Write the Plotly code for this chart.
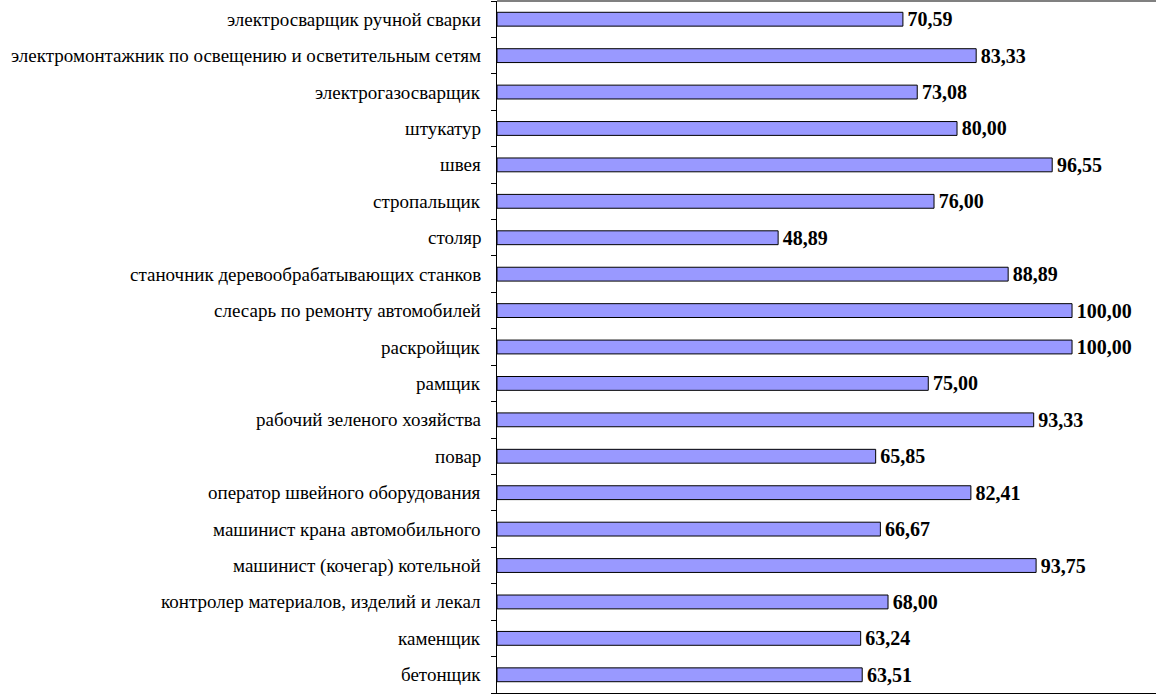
import plotly.graph_objects as go

categories = [
    "бетонщик",
    "каменщик",
    "контролер материалов, изделий и лекал",
    "машинист (кочегар) котельной",
    "машинист крана автомобильного",
    "оператор швейного оборудования",
    "повар",
    "рабочий зеленого хозяйства",
    "рамщик",
    "раскройщик",
    "слесарь по ремонту автомобилей",
    "станочник деревообрабатывающих станков",
    "столяр",
    "стропальщик",
    "швея",
    "штукатур",
    "электрогазосварщик",
    "электромонтажник по освещению и осветительным сетям",
    "электросварщик ручной сварки",
]
values = [63.51, 63.24, 68.00, 93.75, 66.67, 82.41, 65.85, 93.33, 75.00, 100.00,
          100.00, 88.89, 48.89, 76.00, 96.55, 80.00, 73.08, 83.33, 70.59]

labels = [f"{v:.2f}".replace(".", ",") for v in values]

SERIF = "Liberation Serif"

fig = go.Figure(go.Bar(
    x=values, y=categories, orientation="h",
    marker=dict(color="#9999FF", line=dict(color="#000000", width=1)),
    text=labels, texttemplate="\u200a%{text}",
    textposition="outside", cliponaxis=False,
    constraintext="none", hoverinfo="skip",
    textfont=dict(family=SERIF, size=20, color="#000000", weight="bold"),
))

# category labels drawn as annotations placed on the category axis
anns = [dict(x=0, xref="paper", y=c, yref="y", xanchor="right", yanchor="middle",
             xshift=-14, showarrow=False, text=c,
             font=dict(family=SERIF, size=19, color="#000000"))
        for c in categories]

fig.update_layout(
    width=1156, height=696,
    margin=dict(l=497, r=0, t=1, b=3),
    plot_bgcolor="white", paper_bgcolor="white",
    bargap=0.62,
    showlegend=False,
    font=dict(family=SERIF, size=19, color="#000000"),
    annotations=anns,
    xaxis=dict(range=[0, 114.6], showgrid=False, zeroline=False,
               showticklabels=False, ticks="", showline=True,
               linecolor="#000000", linewidth=1),
    yaxis=dict(type="category", categoryorder="array", categoryarray=categories,
               showgrid=False, zeroline=False,
               showline=True, linecolor="#000000", linewidth=1,
               ticks="outside", ticklen=5, tickcolor="#000000",
               tickson="boundaries", showticklabels=False),
    shapes=[dict(type="line", xref="paper", yref="paper", x0=0, x1=1, y0=1, y1=1,
                 line=dict(color="#808080", width=2))],
)

fig.write_html("out.html", config={"displayModeBar": False},
               post_script="document.body.style.margin='0';")
